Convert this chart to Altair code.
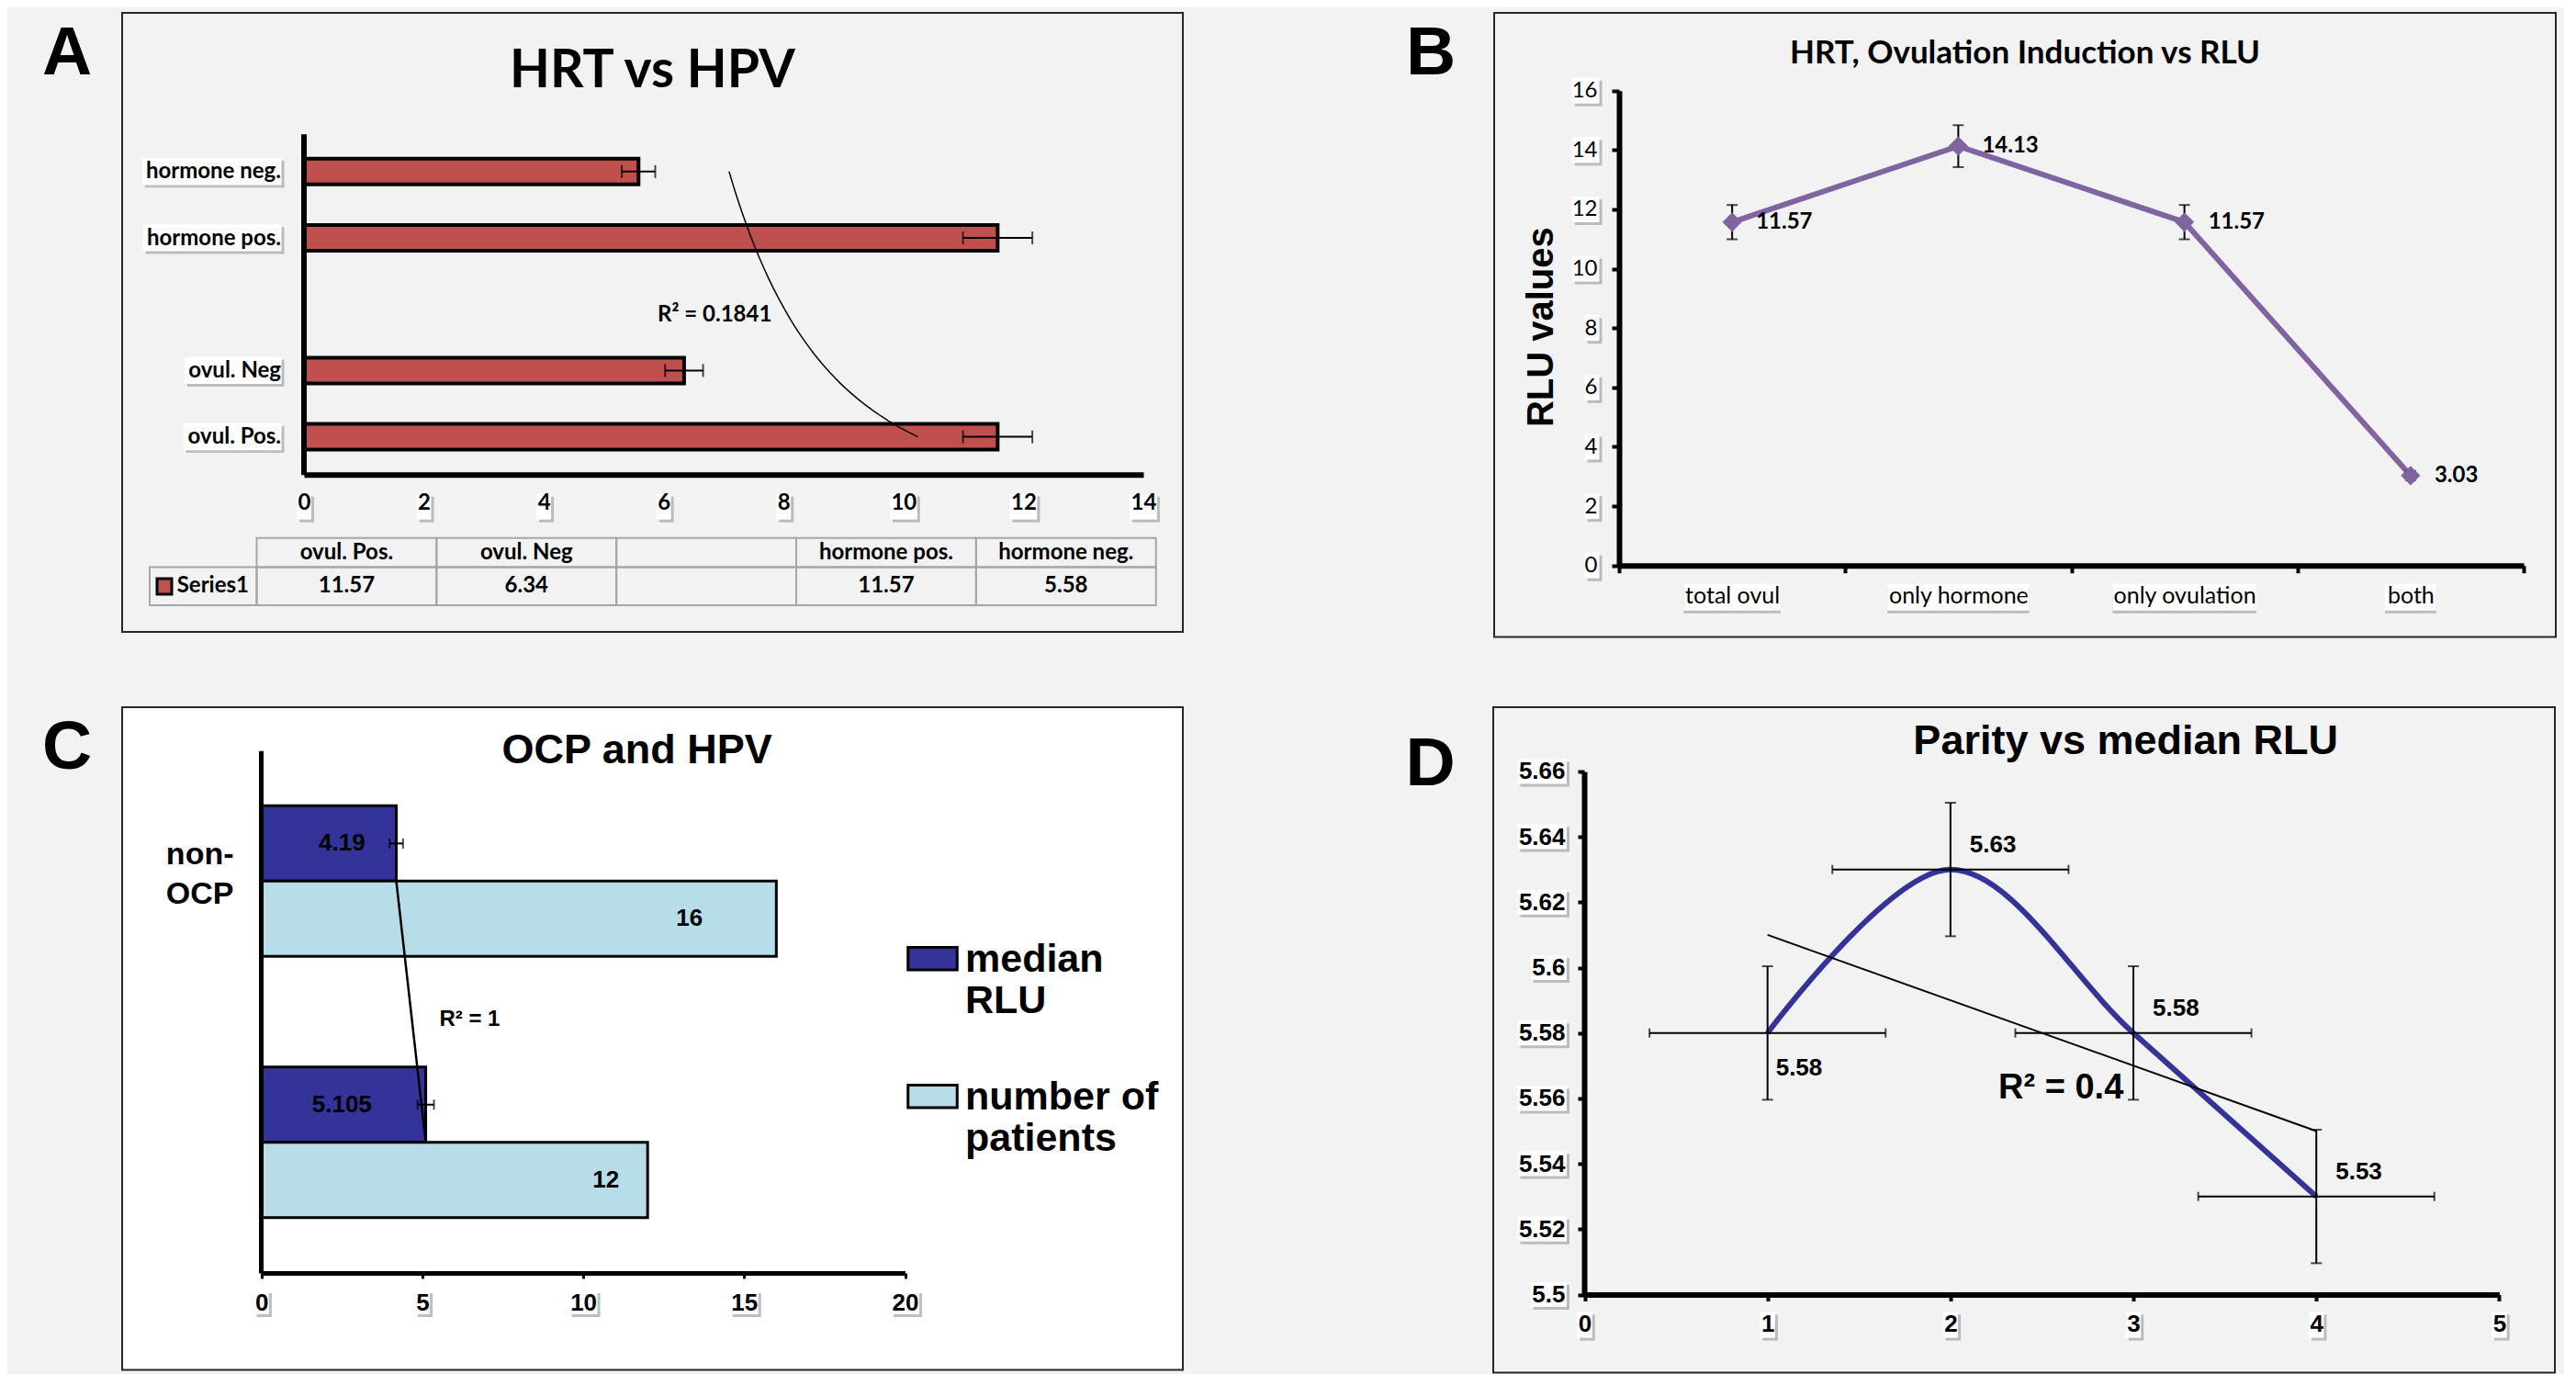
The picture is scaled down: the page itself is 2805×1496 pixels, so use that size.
import altair as alt
import numpy as np
import pandas as pd

BG = "#F2F2F2"
CAL = "Lato"
ARI = "Liberation Sans"
ERR_PCT = 0.05
SHADOW = "#A8A8A8"
DOM_W = 6

# ---------------- data ----------------
# Panel A (categories listed bottom -> top, as in the data table)
a_cats = ["ovul. Pos.", "ovul. Neg", " ", "hormone pos.", "hormone neg."]
a_vals = [11.57, 6.34, None, 11.57, 5.58]
a_ticks = [0, 2, 4, 6, 8, 10, 12, 14]
a_title = "HRT vs HPV"
a_r2 = "R² = 0.1841"
a_series = "Series1"

# Panel B
b_cats = ["total ovul", "only hormone", "only ovulation", "both"]
b_vals = [11.57, 14.13, 11.57, 3.03]
b_ticks = [0, 2, 4, 6, 8, 10, 12, 14, 16]
b_title = "HRT, Ovulation Induction vs RLU"
b_ytitle = "RLU values"

# Panel C
c_groups = ["non-OCP", "OCP"]
c_group_labels = [["non-", "OCP"], []]
c_series = ["median RLU", "number of patients"]
c_series_labels = [["median", "RLU"], ["number of", "patients"]]
c_median = [4.19, 5.105]
c_patients = [16, 12]
c_label_at = [[2.5, 2.5], [13.3, 10.7]]
c_ticks = [0, 5, 10, 15, 20]
c_title = "OCP and HPV"
c_r2 = "R² = 1"

# Panel D
d_parity = [1, 2, 3, 4]
d_rlu = [5.58, 5.63, 5.58, 5.53]
d_xticks = [0, 1, 2, 3, 4, 5]
d_yticks = [5.50, 5.52, 5.54, 5.56, 5.58, 5.60, 5.62, 5.64, 5.66]
d_title = "Parity vs median RLU"
d_r2 = "R² = 0.4"

# ---------------- approximate glyph widths (em) for label boxes ----------------
_DIG = {str(i): 0.58 for i in range(10)}
LATO_B = dict(_DIG, a=.51, b=.56, c=.45, d=.56, e=.52, g=.51, h=.56, i=.26, l=.26, m=.85,
              n=.56, o=.56, p=.56, r=.37, s=.43, t=.36, u=.56, v=.51, y=.51, N=.73, P=.60,
              **{" ": .2, ".": .22})
LATO_R = dict(_DIG, a=.49, b=.55, c=.44, d=.55, e=.51, g=.5, h=.55, i=.24, l=.24, m=.84,
              n=.55, o=.55, p=.55, r=.36, s=.41, t=.34, u=.55, v=.49, y=.49,
              **{" ": .19, ".": .22})
ARI_B = dict({str(i): 0.556 for i in range(10)}, **{".": .278})


def text_w(s, table, size):
    return sum(table.get(ch, 0.55) for ch in s) * size


def note(text, x, y, font, size, weight="bold", align="center", baseline="alphabetic", angle=0):
    return alt.Chart(pd.DataFrame({"t": [text]})).mark_text(
        font=font, fontSize=size, fontWeight=weight, align=align,
        baseline=baseline, color="black", angle=angle
    ).encode(text="t:N", x=alt.value(x), y=alt.value(y))


def frame(fill):
    return alt.ViewBackground(stroke="#262626", strokeWidth=2, fill=fill)


def hboxes(ticks, labels, X, k, table, size, pad, top, bottom, sh=3):
    """White label boxes (with drop shadow) under a horizontal quantitative axis."""
    df = pd.DataFrame({"v": ticks, "w": [text_w(l, table, size) + pad for l in labels]})
    df["b1"] = df["v"] - df["w"] / 2 / k
    df["b2"] = df["v"] + df["w"] / 2 / k
    df["s1"] = df["b1"] + sh / k
    df["s2"] = df["b2"] + sh / k
    shadow = alt.Chart(df).mark_rect(fill=SHADOW, opacity=0.75).encode(
        x=X("s1:Q"), x2="s2:Q", y=alt.value(top + sh), y2=alt.value(bottom + sh))
    box = alt.Chart(df).mark_rect(fill="white").encode(
        x=X("b1:Q"), x2="b2:Q", y=alt.value(top), y2=alt.value(bottom))
    return [shadow, box]


def vboxes_q(ticks, labels, X, Y, kx, ky, right_data, table, size, pad, h, sh=3):
    """White label boxes left of a vertical axis when the x scale is quantitative."""
    df = pd.DataFrame({"v": ticks, "w": [text_w(l, table, size) + pad for l in labels]})
    df["x2"] = right_data
    df["x1"] = right_data - df["w"] / kx
    df["y1"] = df["v"] - h / 2 / ky
    df["y2"] = df["v"] + h / 2 / ky
    df["sx1"] = df["x1"] + sh / kx
    df["sx2"] = df["x2"] + sh / kx
    df["sy1"] = df["y1"] - sh / ky
    df["sy2"] = df["y2"] - sh / ky
    shadow = alt.Chart(df).mark_rect(fill=SHADOW, opacity=0.75).encode(
        x=X("sx1:Q"), x2="sx2:Q", y=Y("sy1:Q"), y2="sy2:Q")
    box = alt.Chart(df).mark_rect(fill="white").encode(
        x=X("x1:Q"), x2="x2:Q", y=Y("y1:Q"), y2="y2:Q")
    return [shadow, box]


# ================= Panel A =================
A_W, A_H = 1155, 674
xA = alt.Scale(domain=[0, 14], range=[198, 1112], nice=False, zero=False)
yA = alt.Scale(domain=[0, 5], range=[502.7, 131.7], nice=False, zero=False)
kxA = (1112 - 198) / 14
kyA = (502.7 - 131.7) / 5

a_rows = []
for i, (c, v) in enumerate(zip(a_cats, a_vals)):
    if v is not None:
        a_rows.append(dict(cat=c, val=v, idx=i + 1, u=i + 0.5,
                           lo=v * (1 - ERR_PCT), hi=v * (1 + ERR_PCT)))
a_df = pd.DataFrame(a_rows)

a_expr = "''"
for r in reversed(a_rows):
    a_expr = f"datum.value == {r['u']} ? '{r['cat']}' : " + a_expr

axA_x = alt.Axis(values=a_ticks, offset=-(A_H - 502.7), domainWidth=DOM_W, domainColor="black",
                 ticks=False, tickSize=0, labelFont=CAL, labelFontWeight="bold", labelFontSize=24,
                 labelColor="black", labelPadding=19, grid=False, title=None,
                 labelFlush=False, labelOverlap=False, zindex=1)
axA_y = alt.Axis(values=[r["u"] for r in a_rows], labelExpr=a_expr, offset=-197.5,
                 domainWidth=DOM_W, domainColor="black", ticks=False, tickSize=0, labelFont=CAL,
                 labelFontWeight="bold", labelFontSize=24, labelColor="black", labelPadding=25,
                 grid=False, title=None, labelOverlap=False, labelFlush=False, zindex=1)


def XA(f):
    return alt.X(f, scale=xA, axis=axA_x)


def YA(f):
    return alt.Y(f, scale=yA, axis=axA_y)


boxesA = hboxes(a_ticks, [str(t) for t in a_ticks], XA, kxA, LATO_B, 24, 2, 523.7, 551.7) + \
    vboxes_q([r["u"] for r in a_rows], [r["cat"] for r in a_rows], XA, YA, kxA, kyA,
             (173.5 - 198) / kxA, LATO_B, 24, 8, 30)

barsA = alt.Chart(a_df).mark_bar(size=28, fill="#C0504D", stroke="black", strokeWidth=4,
                                 orient="horizontal").encode(
    x=XA("val:Q"), x2=alt.datum(0), y=YA("u:Q"))
errA = alt.Chart(a_df).mark_rule(color="black", strokeWidth=2).encode(
    x=XA("lo:Q"), x2="hi:Q", y=YA("u:Q"))
capsA = alt.Chart(a_df).transform_fold(["lo", "hi"], as_=["k", "xe"]).mark_tick(
    orient="vertical", size=14, thickness=2, color="black").encode(x=XA("xe:Q"), y=YA("u:Q"))
trendA = alt.Chart(a_df).transform_regression(
    "idx", "val", method="pow", extent=[1, 5]).transform_calculate(
    u="datum.idx - 0.5").mark_line(color="black", strokeWidth=1.5).encode(
    x=XA("val:Q"), y=YA("u:Q"), order="idx:Q")
r2A = alt.Chart(pd.DataFrame({"t": [a_r2], "val": [6.85], "u": [2.33]})).mark_text(
    font=CAL, fontSize=24, fontWeight="bold", baseline="middle", color="black").encode(
    text="t:N", x=XA("val:Q"), y=YA("u:Q"))

mainA = alt.layer(*boxesA, barsA, errA, capsA, trendA, r2A,
                  note(a_title, A_W / 2, 80.7, CAL, 57),
                  note("A", -60, 67, ARI, 75))

tab_df = pd.DataFrame({
    "col": a_cats,
    "head": [c.strip() for c in a_cats],
    "val": [("%.2f" % v) if v is not None else "" for v in a_vals],
})
xT = alt.Scale(domain=a_cats, range=[146.5, 1125.7], paddingInner=0, paddingOuter=0)
GRID = "#A6A6A6"
headCells = alt.Chart(tab_df).mark_rect(fill=BG, fillOpacity=0, stroke=GRID, strokeWidth=2).encode(
    x=alt.X("col:N", scale=xT, axis=None, sort=a_cats), y=alt.value(571.7), y2=alt.value(603.4))
valCells = alt.Chart(tab_df).mark_rect(fill=BG, fillOpacity=0, stroke=GRID, strokeWidth=2).encode(
    x=alt.X("col:N", scale=xT, axis=None, sort=a_cats), y=alt.value(603.4), y2=alt.value(645))
headText = alt.Chart(tab_df).mark_text(font=CAL, fontSize=24, fontWeight="bold", baseline="middle",
                                       color="black").encode(
    x=alt.X("col:N", scale=xT, axis=None, sort=a_cats), y=alt.value(588.4), text="head:N")
valText = alt.Chart(tab_df).mark_text(font=CAL, fontSize=24, fontWeight="bold", baseline="middle",
                                      color="black").encode(
    x=alt.X("col:N", scale=xT, axis=None, sort=a_cats), y=alt.value(624.2), text="val:N")
legCell = alt.Chart(pd.DataFrame({"t": [a_series]})).mark_rect(
    fill=BG, fillOpacity=0, stroke=GRID, strokeWidth=2).encode(
    x=alt.value(30), x2=alt.value(146.5), y=alt.value(603.4), y2=alt.value(645))
swatchA = alt.Chart(pd.DataFrame({"t": [a_series]})).mark_rect(
    fill="#C0504D", stroke="black", strokeWidth=3).encode(
    x=alt.value(38), x2=alt.value(54), y=alt.value(616), y2=alt.value(633))
seriesText = note(a_series, 59.7, 624.2, CAL, 24, align="left", baseline="middle")
tableA = alt.layer(headCells, valCells, legCell, headText, valText, swatchA, seriesText)

panelA = alt.layer(mainA, tableA).resolve_scale(x="independent", y="independent").properties(
    width=A_W, height=A_H, view=frame(BG))

# ================= Panel B =================
B_W, B_H = 1156, 679.5
b_df = pd.DataFrame({"cat": b_cats, "val": b_vals})
b_df["lo"] = b_df["val"] * (1 - ERR_PCT)
b_df["hi"] = b_df["val"] * (1 + ERR_PCT)
xB = alt.Scale(domain=b_cats, range=[136, 1121], paddingInner=0, paddingOuter=0)
yB = alt.Scale(domain=[0, 16], range=[601.7, 84.7], nice=False, zero=False)
kyB = (601.7 - 84.7) / 16
axB_x = alt.Axis(offset=-(B_H - 601.7), domainWidth=DOM_W, domainColor="black", tickBand="extent",
                 ticks=True, tickSize=8, tickWidth=4, tickColor="black", labelFont=CAL,
                 labelFontSize=25, labelColor="black", labelPadding=13, labelAngle=0,
                 grid=False, title=None, labelLimit=0, zindex=1)
axB_y = alt.Axis(values=b_ticks, offset=-136, domainWidth=DOM_W, domainColor="black", ticks=True,
                 tickSize=8, tickWidth=4, tickColor="black", labelFont=CAL, labelFontSize=24,
                 labelColor="black", labelPadding=16, grid=False, title=b_ytitle, titleFont=ARI,
                 titleFontSize=40, titleFontWeight="bold", titleColor="black", titleX=-85,
                 titleY=341.7, titleAngle=270, titleBaseline="middle", titleAlign="center",
                 labelFlush=False, labelOverlap=False, zindex=1)


def XB():
    return alt.X("cat:N", scale=xB, axis=axB_x, sort=b_cats)


def YB(f):
    return alt.Y(f, scale=yB, axis=axB_y)


boxesB = []
# category label boxes
for c in b_cats:
    w = text_w(c, LATO_R, 25) + 6
    one = b_df[b_df["cat"] == c]
    boxesB.append(alt.Chart(one).mark_bar(fill=SHADOW, opacity=0.75, width=w).encode(
        x=XB(), y=alt.value(624.7), y2=alt.value(653.7)))
    boxesB.append(alt.Chart(one).mark_bar(fill="white", width=w).encode(
        x=XB(), y=alt.value(621.7), y2=alt.value(650.7)))
# value label boxes, grouped by label width
by_df = pd.DataFrame({"v": b_ticks, "n": [len(str(t)) for t in b_ticks]})
by_df["y1"] = by_df["v"] - 14 / kyB
by_df["y2"] = by_df["v"] + 14 / kyB
by_df["sy1"] = by_df["y1"] - 3 / kyB
by_df["sy2"] = by_df["y2"] - 3 / kyB
for nch, grp in by_df.groupby("n"):
    w = text_w("0" * nch, LATO_R, 24) + 2
    boxesB.append(alt.Chart(grp).mark_rect(fill=SHADOW, opacity=0.75).encode(
        x=alt.value(114.5 - w + 3), x2=alt.value(114.5 + 3), y=YB("sy1:Q"), y2="sy2:Q"))
    boxesB.append(alt.Chart(grp).mark_rect(fill="white").encode(
        x=alt.value(114.5 - w), x2=alt.value(114.5), y=YB("y1:Q"), y2="y2:Q"))

lineB = alt.Chart(b_df).mark_line(color="#8064A2", strokeWidth=6).encode(x=XB(), y=YB("val:Q"))
errB = alt.Chart(b_df).mark_rule(color="black", strokeWidth=2).encode(
    x=XB(), y=YB("lo:Q"), y2="hi:Q")
capsB = alt.Chart(b_df).transform_fold(["lo", "hi"], as_=["k", "ye"]).mark_tick(
    orient="horizontal", size=12, thickness=2, color="black").encode(x=XB(), y=YB("ye:Q"))
ptsB = alt.Chart(b_df).mark_point(shape="diamond", filled=True, size=450, color="#8064A2",
                                  opacity=1).encode(x=XB(), y=YB("val:Q"))
lblB = alt.Chart(b_df).mark_text(font=CAL, fontSize=24, fontWeight="bold", align="left", dx=26,
                                 baseline="middle", color="black").encode(
    x=XB(), y=YB("val:Q"), text=alt.Text("val:Q", format=".2f"))
panelB = alt.layer(*boxesB, lineB, errB, capsB, ptsB, lblB,
                   note(b_title, B_W / 2, 54.7, CAL, 35),
                   note("B", -69, 66.7, ARI, 75)).properties(
    width=B_W, height=B_H, view=frame(BG))

# ================= Panel C =================
C_W, C_H = 1155, 721.5
c_rows = []
for gi, g in enumerate(c_groups):
    for si, s in enumerate(c_series):
        v = c_median[gi] if si == 0 else c_patients[gi]
        c_rows.append(dict(group=g, series=s, val=v, at=c_label_at[si][gi],
                           lab=("%g" % v), lo=v * (1 - ERR_PCT), hi=v * (1 + ERR_PCT)))
c_df = pd.DataFrame(c_rows)
c_med_df = c_df[c_df["series"] == c_series[0]]

xC = alt.Scale(domain=[0, 20], range=[151.7, 852.5], nice=False, zero=False)
yC = alt.Scale(domain=c_groups, range=[47.2, 615.9], paddingInner=0.4233, paddingOuter=0.2116)
yOffC = alt.Scale(domain=c_series, paddingInner=0, paddingOuter=0)
kxC = (852.5 - 151.7) / 20

c_expr = "''"
for g, lab in zip(reversed(c_groups), reversed(c_group_labels)):
    arr = "[" + ",".join(f"'{t}'" for t in lab) + "]" if lab else "''"
    c_expr = f"datum.value == '{g}' ? {arr} : " + c_expr
leg_expr = "''"
for s, lab in zip(reversed(c_series), reversed(c_series_labels)):
    arr = "[" + ",".join(f"'{t}'" for t in lab) + "]"
    leg_expr = f"datum.value == '{s}' ? {arr} : " + leg_expr

axC_x = alt.Axis(values=c_ticks, offset=-(C_H - 615.9), domainWidth=5, domainColor="black",
                 ticks=True, tickSize=6, tickWidth=3, tickColor="black", labelFont=ARI,
                 labelFontSize=26, labelFontWeight="bold", labelColor="black", labelPadding=14,
                 grid=False, title=None, labelFlush=False, labelOverlap=False, zindex=1)
axC_y = alt.Axis(offset=-151, domainWidth=5, domainColor="black", ticks=False, tickSize=0,
                 labelExpr=c_expr, labelFont=ARI, labelFontSize=34, labelFontWeight="bold",
                 labelLineHeight=42.5, labelPadding=30, labelOffset=-28, labelColor="black",
                 title=None, grid=False, labelAlign="right", labelBaseline="middle", zindex=1)
legC = alt.Legend(orient="none", legendX=854, legendY=259, title=None,
                  symbolType="M-1,-0.97H1V-0.06H-1Z", symbolSize=2862,
                  symbolStrokeColor="black", symbolStrokeWidth=3, symbolOpacity=1,
                  labelFont=ARI, labelFontSize=43, labelFontWeight="bold", labelColor="black",
                  labelBaseline="alphabetic", labelLimit=0, labelOffset=7, rowPadding=61,
                  labelExpr=leg_expr, padding=0, direction="vertical")


def XC(f):
    return alt.X(f, scale=xC, axis=axC_x)


def YC():
    return alt.Y("group:N", scale=yC, axis=axC_y, sort=c_groups)


def OC():
    return alt.YOffset("series:N", scale=yOffC, sort=c_series)


boxesC = hboxes(c_ticks, [str(t) for t in c_ticks], XC, kxC, ARI_B, 26, 2, 635, 661)

barsC = alt.Chart(c_df).mark_bar(stroke="black", strokeWidth=3, opacity=1).encode(
    x=XC("val:Q"), y=YC(), yOffset=OC(),
    fill=alt.Fill("series:N", scale=alt.Scale(domain=c_series, range=["#333399", "#B7DEE8"]),
                  legend=legC))
errC = alt.Chart(c_med_df).mark_rule(color="black", strokeWidth=2).encode(
    x=XC("lo:Q"), x2="hi:Q", y=YC(), yOffset=OC())
capsC = alt.Chart(c_med_df).transform_fold(["lo", "hi"], as_=["k", "xe"]).mark_tick(
    orient="vertical", size=11, thickness=2, color="black").encode(
    x=XC("xe:Q"), y=YC(), yOffset=OC())
lblC = alt.Chart(c_df).mark_text(font=ARI, fontSize=26, fontWeight="bold", baseline="middle",
                                 color="black").encode(
    x=XC("at:Q"), y=YC(), yOffset=OC(), text="lab:N")
trendC = alt.Chart(c_med_df).mark_line(color="black", strokeWidth=2.5).encode(
    x=XC("val:Q"), y=YC())
r2C = alt.Chart(pd.DataFrame({"t": [c_r2], "val": [6.47]})).mark_text(
    font=ARI, fontSize=24, fontWeight="bold", baseline="middle", color="black").encode(
    text="t:N", x=XC("val:Q"), y=alt.value(339.6))
panelC = alt.layer(*boxesC, barsC, errC, capsC, lblC, trendC, r2C,
                   note(c_title, 560.6, 61.4, ARI, 45),
                   note("C", -60, 67, ARI, 75)).properties(
    width=C_W, height=C_H, view=frame("white"))

# ================= Panel D =================
D_W, D_H = 1156, 724.6
d_df = pd.DataFrame({"x": d_parity, "y": d_rlu})
n = len(d_parity)
x_se = float(np.std(d_parity, ddof=1) / np.sqrt(n))
y_se = float(np.std(d_rlu, ddof=1) / np.sqrt(n))
d_df["xlo"] = d_df["x"] - x_se
d_df["xhi"] = d_df["x"] + x_se
d_df["ylo"] = d_df["y"] - y_se
d_df["yhi"] = d_df["y"] + y_se
xD = alt.Scale(domain=[0, 5], range=[99.5, 1095.4], nice=False, zero=False)
yD = alt.Scale(domain=[5.5, 5.66], range=[639.5, 69.9], nice=False, zero=False)
kxD = (1095.4 - 99.5) / 5
kyD = (639.5 - 69.9) / 0.16
axD_x = alt.Axis(values=d_xticks, offset=-(D_H - 639.5), domainWidth=DOM_W, domainColor="black",
                 ticks=True, tickSize=7, tickWidth=4, tickColor="black", labelFont=ARI,
                 labelFontSize=26, labelFontWeight="bold", labelColor="black", labelPadding=12,
                 grid=False, title=None, labelFlush=False, labelOverlap=False, zindex=1)
axD_y = alt.Axis(values=d_yticks, format=".2~f", offset=-99, domainWidth=DOM_W,
                 domainColor="black", ticks=True, tickSize=7, tickWidth=4, tickColor="black",
                 labelFont=ARI, labelFontSize=26, labelFontWeight="bold", labelColor="black",
                 labelPadding=14, grid=False, title=None, labelFlush=False, labelOverlap=False,
                 zindex=1)


def XD(f):
    return alt.X(f, scale=xD, axis=axD_x)


def YD(f):
    return alt.Y(f, scale=yD, axis=axD_y)


d_ylabels = [("%.2f" % t).rstrip("0").rstrip(".") for t in d_yticks]
boxesD = hboxes(d_xticks, [str(t) for t in d_xticks], XD, kxD, ARI_B, 26, 2, 658.4, 686.6) + \
    vboxes_q(d_yticks, d_ylabels, XD, YD, kxD, kyD, (80 - 99.5) / kxD, ARI_B, 26, 3, 27)

lineD = alt.Chart(d_df).mark_line(interpolate="cardinal", color="#333399", strokeWidth=6).encode(
    x=XD("x:Q"), y=YD("y:Q"))
trendD = alt.Chart(d_df).transform_regression("x", "y", method="linear", extent=[1, 4]).mark_line(
    color="black", strokeWidth=2).encode(x=XD("x:Q"), y=YD("y:Q"))
vErr = alt.Chart(d_df).mark_rule(color="black", strokeWidth=2).encode(
    x=XD("x:Q"), y=YD("ylo:Q"), y2="yhi:Q")
hErr = alt.Chart(d_df).mark_rule(color="black", strokeWidth=2).encode(
    x=XD("xlo:Q"), x2="xhi:Q", y=YD("y:Q"))
vCaps = alt.Chart(d_df).transform_fold(["ylo", "yhi"], as_=["k", "ye"]).mark_tick(
    orient="horizontal", size=12, thickness=2, color="black").encode(x=XD("x:Q"), y=YD("ye:Q"))
hCaps = alt.Chart(d_df).transform_fold(["xlo", "xhi"], as_=["k", "xe"]).mark_tick(
    orient="vertical", size=10, thickness=2, color="black").encode(x=XD("xe:Q"), y=YD("y:Q"))
lblD1 = alt.Chart(d_df.iloc[:1]).mark_text(font=ARI, fontSize=26, fontWeight="bold", align="left",
                                           baseline="middle", dx=9, dy=38, color="black").encode(
    x=XD("x:Q"), y=YD("y:Q"), text=alt.Text("y:Q", format=".2f"))
lblD2 = alt.Chart(d_df.iloc[1:]).mark_text(font=ARI, fontSize=26, fontWeight="bold", align="left",
                                           baseline="middle", dx=21, dy=-27, color="black").encode(
    x=XD("x:Q"), y=YD("y:Q"), text=alt.Text("y:Q", format=".2f"))
r2D = alt.Chart(pd.DataFrame({"t": [d_r2], "x": [2.604], "y": [5.5632]})).mark_text(
    font=ARI, fontSize=38, fontWeight="bold", baseline="middle", color="black").encode(
    text="t:N", x=XD("x:Q"), y=YD("y:Q"))
panelD = alt.layer(*boxesD, lineD, trendD, vErr, hErr, vCaps, hCaps, lblD1, lblD2, r2D,
                   note(d_title, 688.7, 51, ARI, 45),
                   note("D", -68.4, 84.6, ARI, 75)).properties(
    width=D_W, height=D_H, view=frame(BG))

# ================= layout =================
row1 = alt.hconcat(panelA, panelB, spacing=240).resolve_scale(fill="independent").resolve_legend(
    fill="independent")
row2 = alt.hconcat(panelC, panelD, spacing=240).resolve_scale(fill="independent").resolve_legend(
    fill="independent")
chart = alt.vconcat(row1, row2, spacing=74).resolve_scale(fill="independent").resolve_legend(
    fill="independent").properties(
    background=BG, padding={"left": 36, "top": 5, "right": 8, "bottom": 2}
).configure_axis(domainWidth=DOM_W, domainColor="black", tickColor="black")

chart.save("out.html", embed_options={"renderer": "svg", "actions": False})
